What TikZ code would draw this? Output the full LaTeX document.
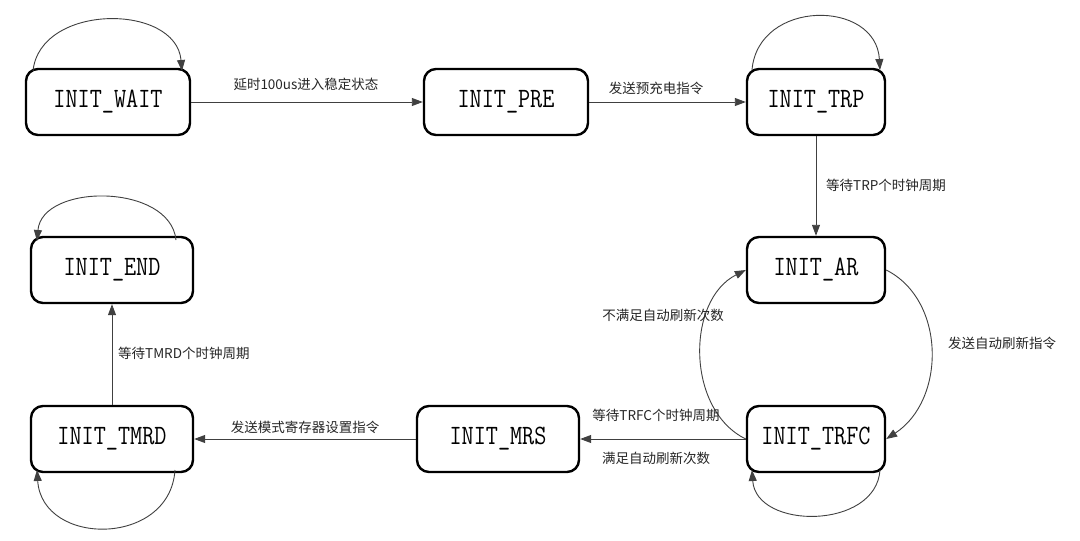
\documentclass[tikz,border=0pt]{standalone}
\usepackage{fontspec}
\newfontfamily\cjk{Noto Sans CJK SC}
\usetikzlibrary{arrows.meta}
\begin{document}
\begin{tikzpicture}[x=1pt,y=-1pt,
  state/.style={draw, line width=2.4pt, rounded corners=12pt, minimum height=66pt, inner sep=0pt,
    font=\fontsize{28}{28}\selectfont\ttfamily},
  ed/.style={draw=black!75, line width=0.9pt, -{Triangle[length=11pt,width=8pt]}},
  lab/.style={font=\cjk\fontsize{13.5}{14}\selectfont, inner sep=0pt, text=black!85}]
\useasboundingbox (0,0) rectangle (1080,541);
\fill[white] (0,0) rectangle (1080,541);
% states
\node[state, minimum width=164pt] (wait) at (108,102) {\scalebox{0.84}[1]{INIT\_WAIT}};
\node[state, minimum width=164pt] (pre)  at (506,102) {\scalebox{0.84}[1]{INIT\_PRE}};
\node[state, minimum width=138pt] (trp)  at (816,102) {\scalebox{0.84}[1]{INIT\_TRP}};
\node[state, minimum width=138pt] (ar)   at (816,270) {\scalebox{0.84}[1]{INIT\_AR}};
\node[state, minimum width=138pt] (trfc) at (816,439) {\scalebox{0.84}[1]{INIT\_TRFC}};
\node[state, minimum width=162pt] (mrs)  at (498,439) {\scalebox{0.84}[1]{INIT\_MRS}};
\node[state, minimum width=162pt] (tmrd) at (112,439) {\scalebox{0.84}[1]{INIT\_TMRD}};
\node[state, minimum width=162pt] (iend) at (112,270) {\scalebox{0.84}[1]{INIT\_END}};
% straight transitions
\draw[ed] (wait.east) -- (pre.west);
\draw[ed] (pre.east) -- (trp.west);
\draw[ed] (trp.south) -- (ar.north);
\draw[ed] (trfc.west) -- (mrs.east);
\draw[ed] (mrs.west) -- (tmrd.east);
\draw[ed] (tmrd.north) -- (iend.south);
% self loops
\coordinate (w1) at (33,71); \coordinate (w2) at (182,71);
\draw[ed] (w1) .. controls (40,3) and (176,3) .. (w2);
\coordinate (t1) at (752,70); \coordinate (t2) at (880,70);
\draw[ed] (t1) .. controls (758,-1) and (876,-1) .. (t2);
\coordinate (e1) at (176,240); \coordinate (e2) at (37,241);
\draw[ed] (e1) .. controls (170,183) and (42,183) .. (e2);
\coordinate (m1) at (175,470); \coordinate (m2) at (37,470);
\draw[ed] (m1) .. controls (170,547) and (42,547) .. (m2);
\coordinate (f1) at (880,470); \coordinate (f2) at (752,470);
\draw[ed] (f1) .. controls (876,530) and (756,530) .. (f2);
% AR <-> TRFC arcs
\draw[ed] (ar.east) .. controls (946,300) and (946,400) .. (trfc.east);
\draw[ed] (trfc.west) .. controls (686,410) and (686,300) .. (ar.west);
% labels
\node[lab] (l1) at (306,84) {延时100us进入稳定状态};
\node[lab] (l2) at (656,88) {发送预充电指令};
\node[lab, anchor=west] (l3) at (826,185) {等待TRP个时钟周期};
\node[lab] (l4) at (1002,343) {发送自动刷新指令};
\node[lab] (l5) at (663,315) {不满足自动刷新次数};
\node[lab] (l6) at (656,415) {等待TRFC个时钟周期};
\node[lab] (l7) at (656,458) {满足自动刷新次数};
\node[lab] (l8) at (305,427) {发送模式寄存器设置指令};
\node[lab, anchor=west] (l9) at (118,353) {等待TMRD个时钟周期};
\end{tikzpicture}
\end{document}
